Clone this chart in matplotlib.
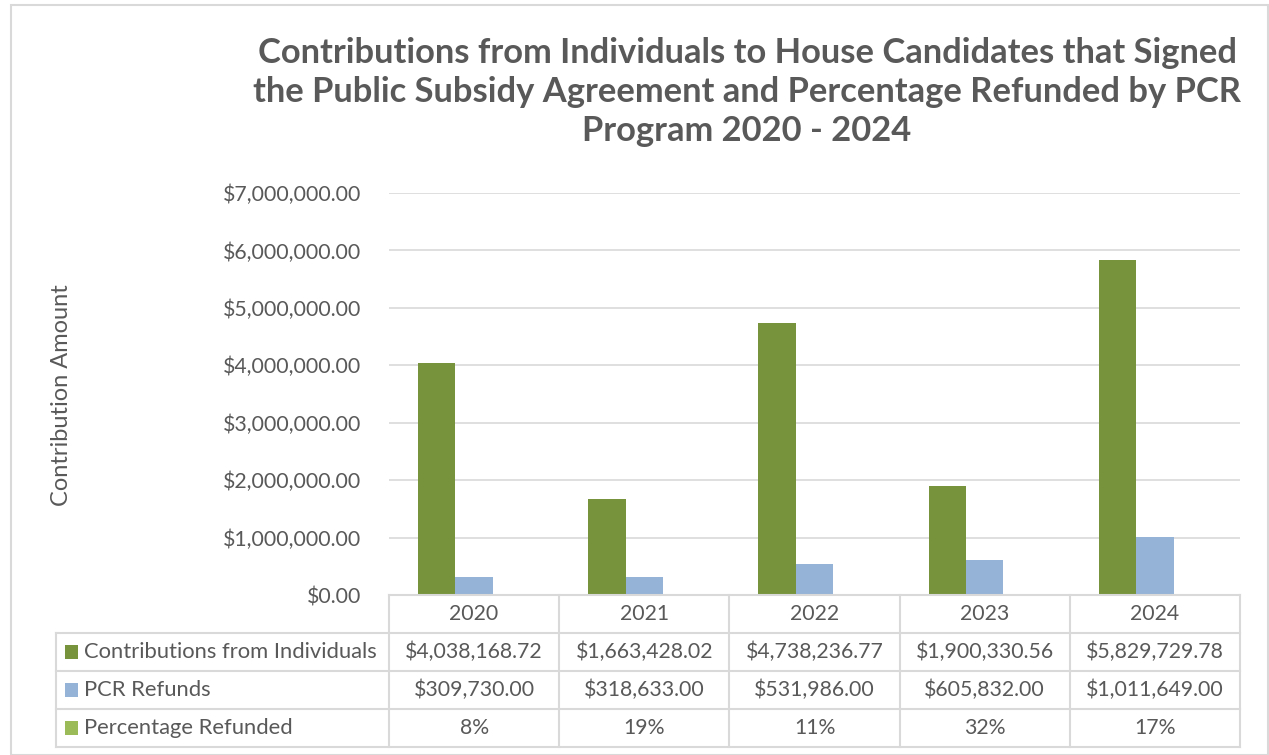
import matplotlib
matplotlib.use("Agg")
import matplotlib.pyplot as plt
import matplotlib.patches as mpatches
import numpy as np

# ----- data -----------------------------------------------------------------
years = ["2020", "2021", "2022", "2023", "2024"]
contributions = [4038168.72, 1663428.02, 4738236.77, 1900330.56, 5829729.78]
refunds = [309730.00, 318633.00, 531986.00, 605832.00, 1011649.00]
pct_refunded = [0.08, 0.19, 0.11, 0.32, 0.17]
series_names = ["Contributions from Individuals", "PCR Refunds", "Percentage Refunded"]
y_ticks = [0, 1e6, 2e6, 3e6, 4e6, 5e6, 6e6, 7e6]

# ----- style ----------------------------------------------------------------
TEXT = "#595959"
GRID = "#D9D9D9"
COLORS = ["#77933C", "#95B3D7", "#9BBB59"]
plt.rcParams["font.family"] = ["Lato", "DejaVu Sans"]

W, H = 1269, 755
fig = plt.figure(figsize=(W / 100, H / 100), dpi=100, facecolor="white")

# chart border
fig.add_artist(mpatches.Rectangle((11 / W, 0), (1268 - 11) / W, 1 - 5 / H,
                                  transform=fig.transFigure, fill=False,
                                  edgecolor=GRID, linewidth=1.5))

px = lambda x0, y0, x1, y1: [x0 / W, 1 - y1 / H, (x1 - x0) / W, (y1 - y0) / H]

# ----- main bars ------------------------------------------------------------
ax = fig.add_axes(px(389, 193, 1240, 595))
x = np.arange(len(years))
bw = 0.22
ax.bar(x - bw, contributions, bw, color=COLORS[0], zorder=3)
ax.bar(x, refunds, bw, color=COLORS[1], zorder=3)
ax.bar(x + bw, pct_refunded, bw, color=COLORS[2], zorder=3)
ax.set_xlim(-0.5, len(years) - 0.5)
ax.set_ylim(0, 7e6)
ax.set_yticks(y_ticks)
ax.set_yticklabels([f"${v:,.2f}" for v in y_ticks])
ax.tick_params(axis="y", length=0, pad=20, labelsize=15.3, labelcolor=TEXT)
ax.set_xticks([])
ax.grid(axis="y", color=GRID, linewidth=1.2, zorder=0)
for s in ax.spines.values():
    s.set_visible(False)

fig.text(62 / W, 1 - 395 / H, "Contribution Amount", rotation=90,
         ha="center", va="center", fontsize=17, color=TEXT)

fig.text(747 / W, 1 - 92 / H,
         "Contributions from Individuals to House Candidates that Signed\n"
         "the Public Subsidy Agreement and Percentage Refunded by PCR\n"
         "Program 2020 - 2024",
         ha="center", va="center", fontsize=24.8, fontweight="bold",
         color=TEXT, linespacing=1.27)

# ----- data table -----------------------------------------------------------
tab = fig.add_axes(px(389, 595, 1240, 747))
tab.set_xlim(-0.5, len(years) - 0.5)
tab.set_ylim(0, 4)
tab.axis("off")
left = -0.5 - (389 - 56) / ((1240 - 389) / len(years))
lkw = dict(color=GRID, linewidth=1.5, clip_on=False)

# horizontal lines
tab.plot([-0.5, len(years) - 0.5], [4, 4], **lkw)
for yy in [3, 2, 1, 0]:
    tab.plot([left, len(years) - 0.5], [yy, yy], **lkw)
# vertical lines
for xx in np.arange(len(years) + 1) - 0.5:
    tab.plot([xx, xx], [0, 4], **lkw)
tab.plot([left, left], [0, 3], **lkw)

cell_fs = 15.3
for i, yr in enumerate(years):
    tab.text(i, 3.5, yr, ha="center", va="center", fontsize=cell_fs, color=TEXT)
    tab.text(i, 2.5, f"${contributions[i]:,.2f}", ha="center", va="center",
             fontsize=cell_fs, color=TEXT)
    tab.text(i, 1.5, f"${refunds[i]:,.2f}", ha="center", va="center",
             fontsize=cell_fs, color=TEXT)
    tab.text(i, 0.5, f"{pct_refunded[i]:.0%}", ha="center", va="center",
             fontsize=cell_fs, color=TEXT)

unit = (1240 - 389) / len(years)
for r, (name, col) in enumerate(zip(series_names, COLORS)):
    yc = 2.5 - r
    tab.add_patch(mpatches.Rectangle((left + 9 / unit, yc - 0.18), 13 / unit, 0.36,
                                     facecolor=col, edgecolor="none", clip_on=False))
    tab.text(left + 28 / unit, yc, name, ha="left", va="center",
             fontsize=cell_fs + 0.5, color=TEXT, clip_on=False)

fig.savefig("out.png", dpi=100, facecolor="white")
